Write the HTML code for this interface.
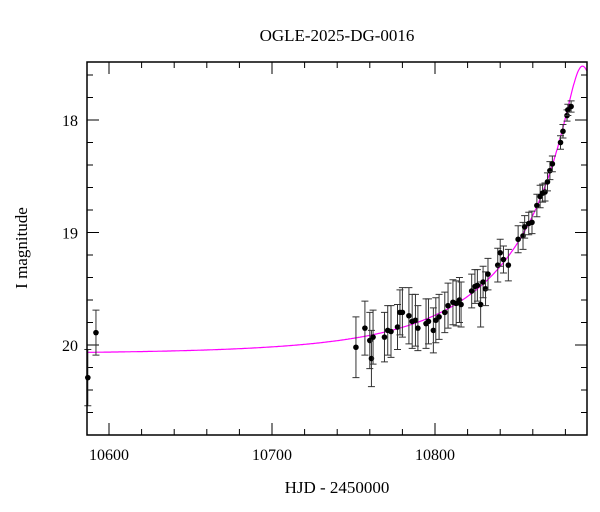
<!DOCTYPE html>
<html><head><meta charset="utf-8"><style>
body{margin:0;background:#fff;}
svg{display:block;font-family:"Liberation Serif",serif;}
</style></head><body>
<svg id="chart" width="600" height="512" viewBox="0 0 600 512" xmlns="http://www.w3.org/2000/svg">
<text x="337" y="41" text-anchor="middle" font-size="17">OGLE-2025-DG-0016</text>
<text x="337" y="493" text-anchor="middle" font-size="17">HJD - 2450000</text>
<text transform="translate(27,248) rotate(-90)" text-anchor="middle" font-size="17">I magnitude</text>
<g id="model"></g>
<g id="ticks"></g>
<g id="points"></g>
<rect x="87" y="62" width="500" height="373" fill="none" stroke="#000" stroke-width="1.5"/>
</svg>
<script>
const times=[10587,10592,10751.5,10757,10760,10761,10762,10769,10771,10773,10777,10778.5,10780,10784,10786,10788,10789.5,10794.5,10796,10799,10800.5,10802.5,10806,10808,10811,10813,10815,10816,10822.5,10824.5,10826,10828,10829.5,10831,10832.5,10838.5,10840,10842,10845,10851,10854,10855,10857.5,10859.5,10862.5,10864.5,10866,10867.5,10869,10870.5,10872,10877,10878.5,10881,10881.5,10883.5];
const mags=[20.29,19.89,20.02,19.85,19.96,20.12,19.93,19.93,19.87,19.88,19.84,19.71,19.71,19.74,19.79,19.78,19.85,19.81,19.79,19.87,19.78,19.75,19.71,19.65,19.62,19.63,19.60,19.64,19.52,19.48,19.47,19.64,19.44,19.50,19.37,19.29,19.18,19.24,19.29,19.06,19.03,18.95,18.92,18.91,18.76,18.68,18.65,18.64,18.55,18.45,18.39,18.20,18.10,17.96,17.91,17.88];
const errs=[0.25,0.2,0.27,0.24,0.25,0.25,0.24,0.22,0.22,0.23,0.2,0.2,0.22,0.25,0.24,0.23,0.2,0.22,0.2,0.2,0.2,0.2,0.18,0.2,0.2,0.2,0.2,0.2,0.15,0.15,0.14,0.2,0.14,0.15,0.14,0.15,0.12,0.12,0.14,0.12,0.12,0.1,0.1,0.1,0.1,0.1,0.08,0.08,0.08,0.08,0.07,0.06,0.06,0.05,0.05,0.05];
const xTicks=[10600,10700,10800];
const yTicks=[18,19,20];
const baseline=20.08, t0=10890.5, tE=95, u0=0.095;
const X=t=>109+(t-10600)*1.63;
const Y=m=>120+(m-18)*112.5;
const NS="http://www.w3.org/2000/svg";
function mk(tag,attrs,parent){const e=document.createElementNS(NS,tag);for(const k in attrs)e.setAttribute(k,attrs[k]);parent.appendChild(e);return e;}
const svg=document.getElementById('chart');
// model
let d="";
for(let t=10586.5;t<=10893;t+=0.5){const u=Math.sqrt(((t-t0)/tE)**2+u0*u0);const A=(u*u+2)/(u*Math.sqrt(u*u+4));const m=baseline-2.5*Math.log10(A);d+=(d?"L":"M")+X(t).toFixed(1)+","+Y(m).toFixed(1);}
const mp=mk('path',{d:d,fill:"none",stroke:"#ff00ff","stroke-width":1.2},document.getElementById('model'));


// ticks
const tg=document.getElementById('ticks');
for(let v=10600;v<=10880;v+=20){const x=X(v);const L=(v%100===0)?12:6;
 mk('line',{x1:x,y1:435,x2:x,y2:435-L,stroke:"#000"},tg);mk('line',{x1:x,y1:62,x2:x,y2:62+L,stroke:"#000"},tg);}
for(let m=17.6;m<=20.81;m+=0.2){const y=Y(m);const maj=Math.abs(m-Math.round(m))<0.01;const L=maj?12:6;
 mk('line',{x1:87,y1:y,x2:87+L,y2:y,stroke:"#000"},tg);mk('line',{x1:587,y1:y,x2:587-L,y2:y,stroke:"#000"},tg);}
xTicks.forEach(v=>{const t=mk('text',{x:X(v),y:460,"text-anchor":"middle","font-size":16},svg);t.textContent=v;
 
 });
yTicks.forEach(v=>{const t=mk('text',{x:78,y:Y(v)+6,"text-anchor":"end","font-size":16},svg);t.textContent=v;
 
 });
// points
const pg=document.getElementById('points');
times.forEach((t,i)=>{const x=X(t),y=Y(mags[i]),e=errs[i]*112.5;
 const g=mk('g',{},pg);
 
 
 mk('line',{x1:x,y1:y-e,x2:x,y2:y+e,stroke:"#333"},g);
 mk('line',{x1:x-3.5,y1:y-e,x2:x+3.5,y2:y-e,stroke:"#333"},g);
 mk('line',{x1:x-3.5,y1:y+e,x2:x+3.5,y2:y+e,stroke:"#333"},g);
 mk('circle',{cx:x,cy:y,r:2.8,fill:"#000"},g);});
</script>
</body></html>
